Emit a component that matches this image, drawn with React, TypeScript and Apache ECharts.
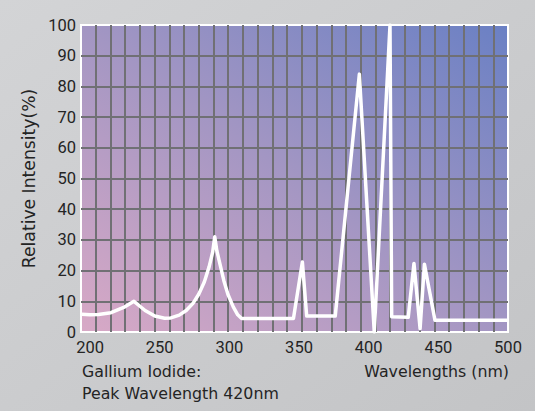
import React, { useEffect, useRef } from "react";
import * as echarts from "echarts";

const wavelengths = [
  194, 200, 206, 215, 225, 231.5, 236, 239.5, 246.5, 253.5, 258, 264, 269, 274,
  278, 282, 285.5, 288, 289.5, 291, 293.3, 296, 299, 302.8, 306, 308.8, 346,
  352.4, 355.5, 376, 393.3, 404, 415.3, 416.5, 428.4, 432.5, 436.9, 440, 447.6,
  500,
];
const intensities = [
  5.8, 5.6, 5.7, 6.3, 8.2, 10.0, 8.3, 7.0, 5.2, 4.5, 4.6, 5.5, 7.0, 9.4,
  12.3, 16.3, 21.3, 26, 31, 26.5, 22, 16.8, 12.2, 8.2, 5.6, 4.4, 4.4,
  22.8, 5.2, 5.2, 84, 0, 100, 5, 4.8, 22.3, 1.1, 22.1, 3.8,
  3.8,
];
const xTickLabels = [200, 250, 300, 350, 400, 450, 500];
const yTicks = [0, 10, 20, 30, 40, 50, 60, 70, 80, 90, 100];

const FONT = "Roboto";
const WIDE = "DejaVu Sans";
const TEXT = "#242424";

export default function App() {
  const ref = useRef<HTMLDivElement>(null);
  useEffect(() => {
    if (!ref.current) return;
    const chart = echarts.init(ref.current, null, { renderer: "svg" });
    const data = wavelengths.map((w, i) => [w, intensities[i]]);
    chart.setOption({
      animation: false,
      backgroundColor: new echarts.graphic.LinearGradient(0, 0, 1, 1, [
        { offset: 0, color: "#d3d4d6" },
        { offset: 1, color: "#c3c4c6" },
      ]),
      grid: {
        left: 81,
        right: 27,
        top: 25,
        bottom: 79,
        show: true,
        borderColor: "#ffffff",
        borderWidth: 2,
        backgroundColor: new echarts.graphic.LinearGradient(0, 1, 1, 0, [
          { offset: 0, color: "#d8a9c6" },
          { offset: 0.5, color: "#a396c3" },
          { offset: 1, color: "#6a80c4" },
        ]),
      },
      xAxis: [
        {
          type: "value",
          min: 193.5,
          max: 500,
          axisLine: { show: false },
          axisTick: { show: false },
          splitLine: { show: false },
          axisLabel: {
            customValues: xTickLabels,
            fontFamily: FONT,
            fontSize: 16.5,
            color: TEXT,
            margin: 7,
          },
        },
        {
          type: "value",
          min: 0,
          max: 29,
          interval: 1,
          position: "top",
          axisLine: { show: false },
          axisTick: { show: false },
          axisLabel: { show: false },
          splitLine: {
            show: true,
            showMinLine: false,
            showMaxLine: false,
            lineStyle: { color: "#707074", width: 2 },
          },
        },
      ],
      yAxis: {
        type: "value",
        min: 0,
        max: 100,
        interval: 10,
        axisLine: { show: false },
        axisTick: { show: false },
        axisLabel: {
          customValues: yTicks,
          fontFamily: FONT,
          fontSize: 16.5,
          color: TEXT,
          margin: 5,
        },
        splitLine: {
          show: true,
          showMinLine: false,
          showMaxLine: false,
          lineStyle: { color: "#707074", width: 2 },
        },
        name: "Relative Intensity(%)",
        nameLocation: "middle",
        nameGap: 36,
        nameTextStyle: { fontFamily: WIDE, fontSize: 17.2, color: TEXT },
      },
      series: [
        {
          type: "line",
          xAxisIndex: 0,
          data,
          symbol: "none",
          smooth: false,
          lineStyle: { color: "#ffffff", width: 3.5, join: "round" },
          z: 5,
        },
      ],
      graphic: [
        {
          type: "text",
          left: 82,
          top: 363,
          style: {
            text: "Gallium Iodide:",
            font: `15.8px '${WIDE}'`,
            fill: TEXT,
          },
        },
        {
          type: "text",
          left: 82,
          top: 385,
          style: {
            text: "Peak Wavelength 420nm",
            font: `15.8px '${WIDE}'`,
            fill: TEXT,
          },
        },
        {
          type: "text",
          right: 26,
          top: 363,
          style: {
            text: "Wavelengths (nm)",
            font: `15.8px '${WIDE}'`,
            fill: TEXT,
          },
        },
      ],
    });
    return () => chart.dispose();
  }, []);
  return (
    <div
      ref={ref}
      style={{ position: "fixed", left: 0, top: 0, width: 535, height: 411 }}
    />
  );
}
